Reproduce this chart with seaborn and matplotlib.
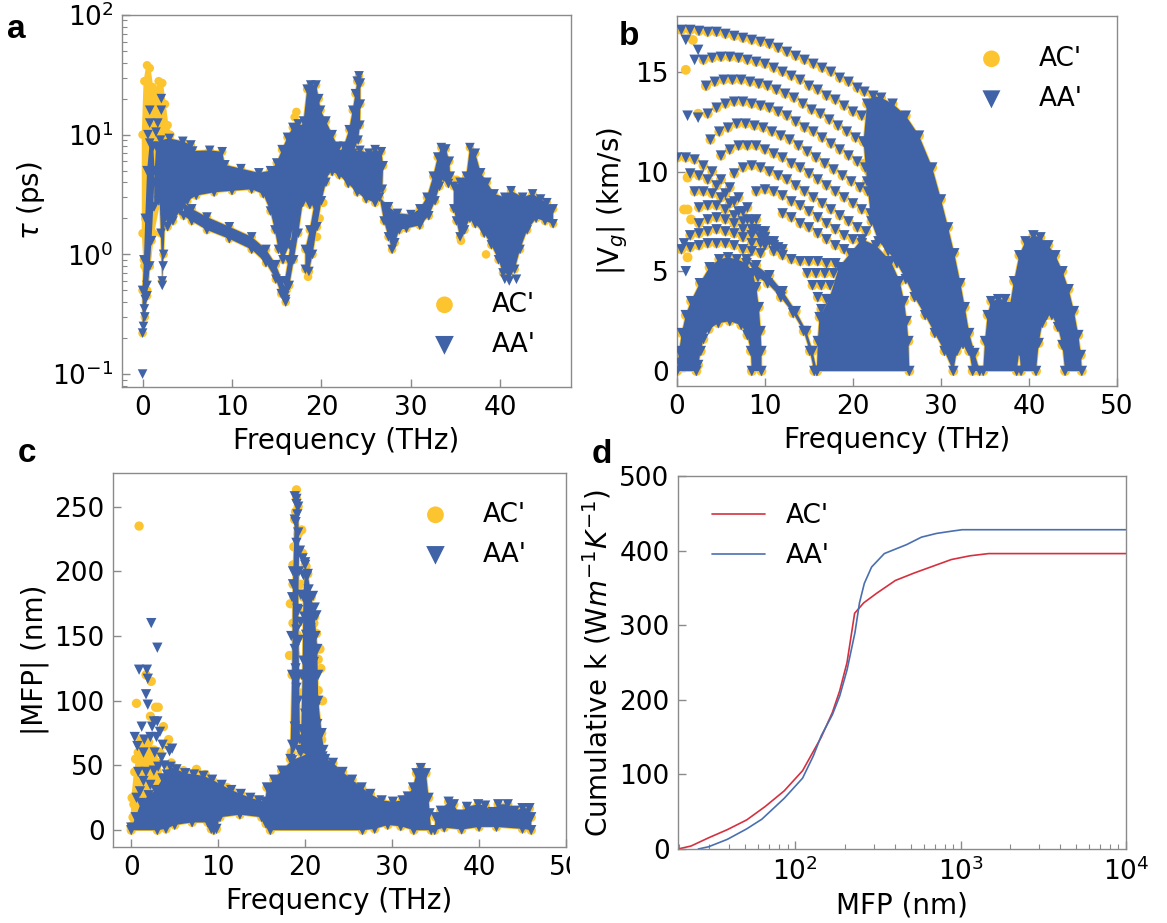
import matplotlib
matplotlib.use("Agg")
import matplotlib.pyplot as plt
from matplotlib.patches import Rectangle
from matplotlib.ticker import LogLocator, NullFormatter, MultipleLocator
import pandas as pd
import seaborn as sns

YELLOW = "#fcc42e"
BLUE = "#3f63a6"
RED_LINE = "#d6303f"
BLUE_LINE = "#4a6fb0"
SPINE = "#8a8a8a"
SERIES = ["AC'", "AA'"]

# ---------------- (a) phonon lifetime tau (ps) vs frequency (THz) ----------------
TAU_LOWF = [(0.0, 0.22), (0.25, 0.3), (0.5, 0.45), (0.8, 0.8), (1.0, 1.3), (1.2, 2.5), (1.35, 5.0),
            (1.2, 8.0), (0.8, 8.5), (0.5, 5.0), (0.3, 2.0), (0.15, 0.9), (0.0, 0.5)]
TAU_DIP = [(1.9, 3.0), (2.05, 1.5), (2.2, 0.6), (2.35, 1.0), (2.5, 2.0), (2.6, 3.2)]
TAU_UPPER = [(1.3, 4.0), (1.5, 8.0), (2.0, 9.0), (3.0, 9.3), (4.5, 8.8), (5.4, 8.2), (5.6, 7.3),
             (7.5, 7.4), (8.9, 7.2), (9.2, 5.6), (11.0, 5.2), (13.0, 4.8), (14.3, 5.0), (15.0, 5.8),
             (15.6, 7.5), (16.2, 9.5), (16.8, 11.5), (17.4, 12.3), (17.9, 11.0), (18.1, 6.0),
             (17.5, 3.5), (17.0, 2.0), (16.4, 1.2), (15.7, 0.9), (15.2, 1.1), (14.8, 1.6), (14.3, 2.3),
             (13.5, 3.2), (12.2, 3.5), (10.0, 3.4), (8.0, 3.3), (6.0, 3.1), (5.0, 2.8), (4.2, 2.3),
             (3.4, 1.9), (2.8, 1.7), (2.4, 2.4), (1.8, 2.8), (1.3, 2.5)]
TAU_LOWER = [(4.6, 2.7), (5.5, 2.4), (7.2, 2.05), (9.7, 1.7), (12.2, 1.4), (13.8, 1.1), (14.9, 0.82),
             (15.6, 0.6), (16.1, 0.5), (16.0, 0.4), (15.5, 0.47), (14.9, 0.62), (13.8, 0.85),
             (12.2, 1.1), (9.7, 1.35), (7.2, 1.6), (5.5, 1.9), (4.6, 2.1)]
TAU_ARM = [(15.9, 0.45), (16.4, 0.55), (16.9, 0.9), (17.4, 1.5), (17.9, 2.7), (18.3, 5.0), (18.3, 9.0),
           (17.9, 10.0), (17.5, 7.0), (17.2, 3.5), (16.8, 1.7), (16.3, 0.9), (15.9, 0.6)]
TAU_RISE = [(18.2, 0.75), (18.6, 0.72), (19.0, 1.0), (19.5, 1.7), (20.0, 2.8), (20.5, 4.0), (21.0, 5.3),
            (21.0, 7.0), (20.4, 6.0), (19.8, 4.2), (19.2, 2.6), (18.7, 1.6), (18.2, 1.1)]
TAU_PEAK = [(17.4, 5.0), (17.6, 11.0), (18.0, 13.0), (18.4, 24.0), (18.8, 26.0), (19.4, 26.0),
            (19.7, 20.0), (19.9, 16.0), (20.5, 13.0), (21.2, 10.0), (21.8, 8.0), (21.8, 5.5),
            (20.8, 5.0), (20.0, 3.8), (19.3, 2.8), (18.7, 2.6), (18.0, 3.0)]
TAU_SPIKE = [(21.6, 6.5), (22.5, 8.0), (23.1, 11.0), (23.5, 16.0), (23.8, 22.0), (24.0, 28.0),
             (24.2, 31.0), (24.35, 27.0), (24.35, 18.0), (24.3, 12.0), (24.1, 9.0), (23.5, 7.0),
             (22.5, 5.5)]
TAU_MID = [(20.8, 6.5), (21.8, 7.6), (22.8, 7.2), (24.3, 7.4), (25.3, 7.0), (26.0, 7.5), (26.7, 7.2),
           (26.9, 5.5), (26.8, 3.5), (26.0, 2.7), (25.0, 2.9), (24.0, 3.3), (23.0, 3.9), (22.0, 4.6),
           (21.2, 4.9), (20.8, 5.2)]
TAU_MID2 = [(26.5, 3.0), (27.5, 2.5), (28.5, 2.2), (30.0, 2.15), (31.0, 2.4), (31.8, 3.0), (32.5, 4.5),
            (33.0, 6.5), (33.4, 7.8), (33.9, 7.6), (34.3, 6.0), (34.4, 4.5), (34.2, 3.9), (33.7, 4.4),
            (33.2, 3.7), (32.7, 2.8), (32.0, 2.1), (31.0, 1.75), (29.5, 1.65), (28.7, 1.6),
            (28.2, 1.25), (27.9, 1.1), (27.5, 1.4), (27.0, 1.9)]
TAU_HIGH = [(34.8, 3.7), (35.5, 4.0), (36.2, 4.5), (36.6, 7.8), (37.2, 7.0), (37.8, 4.8), (38.5, 4.0),
            (39.3, 3.2), (40.5, 3.0), (41.2, 3.4), (42.5, 3.0), (43.6, 3.2), (44.5, 2.9), (45.2, 2.7),
            (45.9, 2.4), (45.9, 1.8), (45.0, 1.9), (44.0, 2.0), (43.0, 1.6), (42.2, 1.1), (41.6, 0.75),
            (41.0, 0.68), (40.3, 0.7), (39.8, 0.9), (39.0, 1.2), (38.2, 1.5), (37.2, 1.8), (36.6, 2.0),
            (36.0, 1.6), (35.5, 1.4), (35.1, 1.9), (34.8, 2.4)]
TAU_AA_PTS = [(0.0, 0.1), (0.1, 0.25), (0.2, 0.35), (0.3, 0.42), (0.5, 0.55), (0.8, 16.0), (0.8, 12.5),
              (0.6, 10.0), (1.7, 12.5), (2.1, 20.0), (2.1, 16.0), (1.5, 10.5), (2.2, 0.55), (2.3, 0.8),
              (16.0, 0.42), (41.0, 0.6), (41.8, 0.62), (40.5, 0.62)]
TAU_AC_LOWF = [(0.0, 1.5), (0.0, 10.0), (0.2, 28.0), (0.5, 38.0), (0.8, 36.0), (1.1, 25.0), (1.4, 22.0),
               (1.8, 28.0), (2.2, 27.0), (2.5, 18.0), (2.8, 12.0), (3.1, 10.0), (2.8, 5.0), (2.0, 3.0),
               (1.2, 1.5), (0.8, 0.8), (0.5, 0.5), (0.2, 0.8)]
TAU_AC_PTS = [(17.2, 15.5), (17.0, 14.0), (18.5, 0.65), (18.3, 0.75), (35.1, 4.2), (35.6, 1.3),
              (38.4, 1.0), (42.4, 1.7), (26.6, 7.3), (0.5, 0.5), (0.4, 0.75), (19.5, 1.4), (19.8, 2.0),
              (20.2, 2.7)]

# ---------------- (b) group velocity |Vg| (km/s) vs frequency (THz) ----------------
VG_DOME = [(0.0, 0.0), (0.25, 1.0), (0.55, 1.9), (1.0, 2.8), (1.6, 3.5), (2.6, 4.4), (3.7, 5.2),
           (4.8, 5.6), (5.8, 5.7), (6.8, 5.6), (7.9, 5.4), (8.6, 4.9), (9.0, 4.2), (9.3, 3.2),
           (9.5, 2.0), (9.6, 1.0), (9.6, 0.0), (8.5, 0.0), (8.4, 1.0), (8.0, 1.8), (7.3, 2.3),
           (6.0, 2.5), (4.7, 2.4), (3.6, 2.1), (3.0, 1.6), (2.7, 1.0), (2.4, 0.3), (2.2, 0.0)]
VG_THIN = [(7.9, 5.6), (9.0, 5.3), (10.5, 4.8), (12.0, 4.0), (13.5, 3.0), (14.7, 2.0), (15.4, 1.0),
           (15.9, 0.0), (15.6, 0.0), (15.1, 1.0), (14.4, 2.0), (13.2, 2.9), (11.8, 3.7), (10.3, 4.4),
           (9.2, 4.7)]
VG_CENTER = [(15.9, 0.0), (16.0, 1.5), (16.2, 2.7), (17.3, 3.6), (18.4, 5.2), (19.7, 5.9), (21.0, 6.6),
             (22.6, 6.3), (24.3, 5.5), (25.3, 4.5), (25.8, 3.5), (26.1, 2.5), (26.3, 1.5), (26.4, 0.0)]
VG_BIG = [(21.2, 11.5), (21.6, 13.4), (22.3, 13.8), (23.2, 13.7), (24.5, 13.4), (26.0, 12.8),
          (27.5, 11.8), (29.0, 10.2), (30.0, 8.6), (30.8, 7.2), (31.5, 5.9), (32.2, 4.4), (32.7, 3.2),
          (33.2, 1.9), (33.8, 0.9), (34.4, 0.0), (33.6, 0.0), (33.2, 1.0), (32.5, 1.35), (31.8, 1.0),
          (31.4, 0.0), (30.4, 1.0), (29.3, 1.9), (28.2, 2.8), (27.0, 3.7), (26.0, 4.6), (25.0, 5.4),
          (24.0, 6.0), (22.9, 6.5), (22.1, 7.5), (21.6, 9.5)]
VG_RIGHT = [(34.8, 0.0), (35.0, 1.5), (35.3, 2.8), (35.7, 3.5), (36.5, 3.6), (37.3, 3.6), (37.8, 3.2),
            (38.3, 4.5), (38.9, 5.8), (39.6, 6.5), (40.5, 6.8), (41.3, 6.7), (42.2, 6.3), (43.0, 5.8),
            (43.8, 5.0), (44.5, 4.1), (45.1, 3.0), (45.6, 1.8), (45.9, 0.8), (46.0, 0.0), (44.1, 0.0),
            (43.8, 1.3), (43.3, 2.2), (42.6, 2.8), (42.0, 2.8), (41.5, 2.4), (41.1, 1.4), (40.8, 0.0),
            (39.1, 0.0), (38.9, 1.0), (38.6, 0.0)]
VG_ROW0 = [(0.5, 17.1), (1.5, 17.1), (2.5, 17.05), (3.5, 17.0), (4.5, 17.0), (5.5, 16.9), (6.5, 16.8),
           (7.5, 16.7), (8.5, 16.6), (9.5, 16.5), (10.5, 16.4), (11.5, 16.2), (12.5, 16.0), (13.5, 15.8),
           (14.5, 15.6), (15.5, 15.4), (16.5, 15.2), (17.5, 15.0), (18.5, 14.7), (19.5, 14.5),
           (20.5, 14.2), (21.3, 14.0)]
VG_ROW1 = [(3.0, 15.6), (4.0, 15.7), (5.0, 15.75), (6.0, 15.75), (7.0, 15.7), (8.0, 15.6), (9.0, 15.5),
           (10.0, 15.4), (11.0, 15.2), (12.0, 15.0), (13.0, 14.8), (14.0, 14.6), (15.0, 14.3),
           (16.0, 14.1), (17.0, 13.8), (18.0, 13.6), (19.0, 13.3), (20.0, 13.0), (21.0, 12.8)]
VG_ROW2 = [(3.3, 14.3), (4.3, 14.5), (5.3, 14.6), (6.3, 14.6), (7.3, 14.6), (8.3, 14.5), (9.3, 14.4),
           (10.3, 14.3), (11.3, 14.1), (12.3, 13.9), (13.3, 13.7), (14.3, 13.4), (15.3, 13.1),
           (16.3, 12.9), (17.3, 12.6), (18.3, 12.3), (19.3, 12.0), (20.3, 11.7), (21.2, 11.5)]
VG_ROW3 = [(3.5, 12.9), (4.5, 13.2), (5.5, 13.4), (6.5, 13.5), (7.5, 13.5), (8.5, 13.4), (9.5, 13.3),
           (10.5, 13.2), (11.5, 13.0), (12.5, 12.8), (13.5, 12.5), (14.5, 12.2), (15.5, 12.0),
           (16.5, 11.7), (17.5, 11.4), (18.5, 11.1), (19.5, 10.8), (20.5, 10.5), (21.4, 10.2)]
VG_ROW4 = [(3.8, 11.6), (4.8, 12.0), (5.8, 12.2), (6.8, 12.4), (7.8, 12.4), (8.8, 12.3), (9.8, 12.2),
           (10.8, 12.0), (11.8, 11.8), (12.8, 11.6), (13.8, 11.3), (14.8, 11.0), (15.8, 10.7),
           (16.8, 10.4), (17.8, 10.1), (18.8, 9.8), (19.8, 9.5), (20.8, 9.2), (21.7, 9.0)]
VG_ROW5 = [(5.0, 10.8), (6.0, 11.1), (7.0, 11.3), (8.0, 11.3), (9.0, 11.3), (10.0, 11.1), (11.0, 10.9),
           (12.0, 10.7), (13.0, 10.4), (14.0, 10.2), (15.0, 9.9), (16.0, 9.6), (17.0, 9.3),
           (18.0, 9.0), (19.0, 8.7), (20.0, 8.4), (21.0, 8.1), (22.0, 7.9)]
VG_ROW6 = [(6.5, 9.9), (7.5, 10.2), (8.5, 10.3), (9.5, 10.2), (10.5, 10.0), (11.5, 9.8), (12.5, 9.6),
           (13.5, 9.3), (14.5, 9.0), (15.5, 8.7), (16.5, 8.4), (17.5, 8.1), (18.5, 7.8), (19.5, 7.5),
           (20.5, 7.2), (21.5, 7.0)]
VG_ROW7 = [(9.0, 9.0), (10.0, 9.1), (11.0, 9.0), (12.0, 8.8), (13.0, 8.5), (14.0, 8.3), (15.0, 8.0),
           (16.0, 7.7), (17.0, 7.4), (18.0, 7.1), (19.0, 6.8), (20.0, 6.6), (21.0, 6.4)]
VG_ROW8 = [(12.0, 7.9), (13.0, 7.7), (14.0, 7.4), (15.0, 7.2), (16.0, 6.9), (17.0, 6.6), (18.0, 6.3),
           (19.0, 6.1)]
VG_ROW9 = [(10.0, 6.3), (11.0, 6.0), (12.0, 5.8), (13.0, 5.6), (14.0, 5.5), (15.0, 5.5), (16.0, 5.5),
           (17.0, 5.4), (18.0, 5.4), (14.8, 4.9), (15.8, 4.9), (16.8, 4.9), (17.8, 4.9), (15.4, 4.3),
           (16.4, 4.3), (17.4, 4.3), (16.0, 3.7), (17.0, 3.6), (16.4, 3.1)]
VG_LEFT0 = [(0.0, 10.7), (1.0, 10.7), (2.0, 10.6), (3.0, 10.3), (4.0, 10.0), (5.0, 9.6), (6.0, 9.2),
            (7.0, 8.7), (8.0, 8.2), (9.0, 7.6), (10.0, 7.0), (11.0, 6.5), (12.0, 6.1)]
VG_LEFT1 = [(1.5, 9.9), (2.5, 9.8), (3.5, 9.6), (4.5, 9.3), (5.5, 8.9), (6.5, 8.5), (7.5, 8.0),
            (8.5, 7.5), (9.5, 7.0), (10.5, 6.5), (11.5, 6.2)]
VG_LEFT2 = [(2.0, 9.0), (3.0, 9.0), (4.0, 8.9), (5.0, 8.7), (6.0, 8.4), (7.0, 8.0), (8.0, 7.6),
            (9.0, 7.1), (10.0, 6.7), (11.0, 6.3)]
VG_LEFT3 = [(2.5, 8.2), (3.5, 8.3), (4.5, 8.3), (5.5, 8.1), (6.5, 7.8), (7.5, 7.5), (8.5, 7.1), (9.5, 6.7)]
VG_LEFT4 = [(2.5, 7.4), (3.5, 7.6), (4.5, 7.7), (5.5, 7.6), (6.5, 7.4), (7.5, 7.1), (8.5, 6.8), (9.5, 6.4)]
VG_LEFT5 = [(1.5, 6.8), (2.5, 6.9), (3.5, 7.0), (4.5, 7.1), (5.5, 7.0), (6.5, 6.9), (7.5, 6.7), (8.5, 6.4)]
VG_LEFT6 = [(0.5, 6.1), (1.5, 6.2), (2.5, 6.3), (3.5, 6.4), (4.5, 6.4), (5.5, 6.4), (6.5, 6.3),
            (7.5, 6.1), (8.5, 6.0), (9.5, 5.9)]
VG_AA_PTS = [(1.0, 16.6), (2.0, 15.6), (2.4, 16.1), (1.2, 12.8), (2.4, 12.7), (0.8, 6.4), (1.0, 5.0),
             (0.3, 0.4), (1.1, 0.4)]
VG_AC_PTS = [(1.0, 15.1), (1.8, 16.6), (3.3, 14.3), (2.4, 12.9), (1.2, 9.7), (1.2, 8.1), (1.6, 7.6),
             (1.2, 5.7), (0.8, 8.1), (21.8, 10.0), (21.3, 10.4), (22.0, 10.6)]

# ---------------- (c) mean free path |MFP| (nm) vs frequency (THz) ----------------
MFP_MAIN = [(0.0, 2.0), (0.5, 10.0), (1.1, 21.0), (2.0, 27.0), (2.8, 31.0), (3.6, 40.0), (4.5, 49.0),
            (5.2, 47.0), (6.2, 44.0), (7.2, 43.0), (8.3, 42.0), (9.3, 39.0), (10.4, 35.0), (11.5, 31.0),
            (12.6, 28.0), (13.7, 25.0), (14.7, 23.0), (15.4, 22.0), (15.6, 33.0), (16.4, 39.0),
            (17.3, 46.0), (18.5, 54.0), (20.3, 59.0), (22.0, 57.0), (23.2, 52.0), (24.3, 45.0),
            (25.4, 39.0), (26.5, 33.0), (27.5, 28.0), (28.8, 23.0), (30.1, 22.0), (31.2, 23.0),
            (31.8, 26.0), (32.4, 33.0), (32.8, 44.0), (33.3, 48.0), (33.9, 44.0), (34.2, 25.0),
            (34.3, 13.0), (34.5, 0.0), (32.5, 0.0), (31.0, 3.0), (29.5, 4.0), (28.0, 1.0), (26.6, 0.0),
            (16.0, 0.0), (15.5, 5.0), (15.0, 10.0), (12.5, 12.0), (10.2, 10.0), (9.8, 1.0), (9.5, 0.0),
            (9.2, 1.0), (8.8, 6.0), (7.0, 6.0), (5.0, 4.0), (4.0, 1.0), (3.0, 0.0), (0.0, 0.0)]
MFP_RIGHT = [(34.9, 0.0), (35.0, 10.0), (35.6, 15.0), (36.5, 22.0), (37.1, 20.0), (37.7, 12.0),
             (38.6, 18.0), (39.9, 20.0), (40.7, 19.0), (41.6, 14.0), (42.2, 20.0), (43.3, 20.0),
             (44.1, 15.0), (45.0, 17.0), (45.8, 17.0), (46.0, 10.0), (46.0, 0.0), (45.0, 1.0),
             (42.0, 2.5), (40.0, 2.5), (38.0, 0.5), (36.0, 2.0)]
MFP_PEAK_L = [(18.3, 55.0), (18.5, 120.0), (18.6, 190.0), (18.8, 240.0), (19.0, 256.0), (19.2, 250.0),
              (19.3, 215.0), (19.2, 170.0), (19.3, 120.0), (19.4, 70.0)]
MFP_PEAK_R = [(19.5, 60.0), (19.7, 120.0), (19.8, 180.0), (20.0, 205.0), (20.3, 198.0), (20.7, 180.0),
              (21.1, 165.0), (21.4, 140.0), (21.5, 100.0), (21.9, 75.0), (22.3, 55.0)]
MFP_AA_PTS = [(18.8, 258), (19.0, 252), (19.1, 244), (18.9, 238), (19.2, 230), (19.0, 222), (19.4, 216),
              (19.7, 210), (20.0, 207), (19.3, 200), (19.8, 197), (20.2, 196), (20.4, 186), (20.9, 181),
              (21.1, 172), (21.3, 166), (19.5, 182), (19.1, 171), (19.5, 161), (19.0, 155), (19.3, 147),
              (20.1, 151), (20.6, 156), (21.2, 150), (18.8, 140), (19.8, 131), (20.3, 126), (19.6, 120),
              (20.8, 116), (19.0, 110), (19.2, 100), (20.4, 98), (21.2, 95), (21.0, 86), (18.8, 80),
              (19.6, 78), (20.2, 75), (21.5, 70), (18.5, 66), (19.3, 62), (20.8, 60), (21.7, 56),
              (22.1, 62), (22.2, 52), (20.0, 90), (20.7, 105), (21.4, 82), (18.9, 125), (19.9, 165),
              (20.5, 140), (21.0, 130), (18.6, 200), (18.5, 180), (18.4, 150), (21.5, 120),
              (0.9, 124), (1.8, 124), (1.9, 117), (2.3, 160), (3.0, 141), (1.7, 105), (1.9, 97),
              (0.4, 72), (1.2, 80), (2.6, 84), (3.0, 84), (2.9, 72), (3.3, 76), (2.2, 72), (0.7, 65),
              (1.4, 60), (3.5, 56), (4.4, 61), (4.7, 63), (2.7, 60), (3.8, 50), (1.7, 45), (2.6, 46),
              (3.1, 49), (4.1, 43), (0.8, 45), (1.4, 38), (2.2, 35), (1.0, 30), (2.4, 80), (3.6, 66),
              (1.5, 70), (0.6, 25)]
MFP_AC_LOWF = [(0.0, 3.0), (0.1, 25.0), (0.4, 45.0), (0.8, 60.0), (1.3, 65.0), (2.0, 68.0), (2.6, 62.0),
               (3.2, 52.0), (3.6, 40.0), (3.3, 28.0), (2.2, 15.0), (1.0, 8.0)]
MFP_AC_PTS = [(19.0, 263), (18.9, 246), (19.2, 229), (18.7, 219), (19.7, 214), (20.1, 204), (19.5, 190),
              (20.6, 181), (21.0, 160), (21.3, 152), (21.3, 141), (21.5, 132), (20.4, 121), (21.5, 108),
              (21.3, 101), (19.1, 151), (18.9, 136), (18.7, 121), (18.9, 96), (19.4, 106), (20.9, 90),
              (21.9, 70), (18.6, 205), (18.7, 180), (18.6, 160), (21.2, 65), (18.4, 60), (21.8, 125),
              (21.7, 140), (22.0, 100), (19.6, 232), (18.3, 175), (18.2, 135),
              (0.9, 235), (0.6, 98), (2.3, 115), (2.8, 95), (3.1, 95), (1.7, 120), (3.7, 80), (4.3, 70),
              (0.5, 55), (1.0, 50), (1.5, 55), (2.0, 60), (1.3, 40), (0.8, 35), (1.8, 30), (0.3, 20),
              (0.2, 10), (2.5, 50), (3.3, 60), (4.6, 52), (5.0, 48), (7.5, 47), (6.0, 46), (8.5, 43),
              (11.0, 33), (4.0, 66), (2.2, 88), (1.1, 70)]

# ---------------- (d) cumulative thermal conductivity vs MFP ----------------
MFP_AC = [19.6, 23.5, 30, 39, 51, 66, 86, 111, 144, 168, 186, 206, 229, 260, 312, 404, 525, 679, 879,
          1138, 1476, 10000]
K_AC = [0, 4, 15, 26, 39, 57, 78, 105, 150, 183, 212, 250, 316, 330, 343, 360, 370, 379, 388, 393, 396, 396]
MFP_AA = [26, 30, 39, 51, 63, 86, 111, 129, 144, 168, 186, 206, 230, 245, 262, 290, 346, 404, 472, 580,
          715, 880, 1024, 10000]
K_AA = [0, 3, 13, 27, 40, 68, 95, 125, 152, 180, 205, 240, 290, 330, 356, 378, 396, 402, 408, 418, 423,
        426, 428, 428]

sns.set_style("white")
plt.rcParams["font.family"] = ["DejaVu Sans"]
plt.rcParams["mathtext.fontset"] = "dejavusans"
plt.rcParams["text.color"] = "black"
plt.rcParams["axes.labelcolor"] = "black"

W, H = 1167, 923
fig = plt.figure(figsize=(W / 100, H / 100), dpi=100)
fig.patch.set_facecolor("white")


def cloud(ax, bands, points, color, marker, size, label, z, rim=0.0):
    """Fill dense point clouds as regions and scatter their outline and loose points."""
    for band in bands:
        bx, by = zip(*band)
        ax.fill(bx, by, facecolor=color, edgecolor=color if rim else "none",
                linewidth=rim, zorder=z)
    pts = [p for band in bands for p in band] + list(points)
    df = pd.DataFrame(pts, columns=["x", "y"])
    sns.scatterplot(data=df, x="x", y="y", marker=marker, s=size, color=color,
                    edgecolor="none", linewidth=0, label=label, legend=False,
                    ax=ax, zorder=z + 1)


def style(ax):
    for sp in ax.spines.values():
        sp.set_color(SPINE)
        sp.set_linewidth(1.0)
    ax.tick_params(which="both", direction="in", color=SPINE, labelcolor="black", bottom=True,
                   left=True, top=False, right=False)
    ax.tick_params(which="major", length=6, width=1, labelsize=19, pad=6)
    ax.tick_params(which="minor", length=3.5, width=0.8)
    ax.set_facecolor("white")


def legend(ax, cx, cy, scale=1.95):
    ax.legend(loc="center", bbox_to_anchor=(cx / W, 1 - cy / H), bbox_transform=fig.transFigure,
              frameon=False, fontsize=19, markerscale=scale, handletextpad=0.8,
              labelspacing=0.55)


# (a)
ax_a = fig.add_axes([122 / W, 1 - 387 / H, 449 / W, 372 / H])
tau_bands = [TAU_LOWF, TAU_DIP, TAU_UPPER, TAU_LOWER, TAU_ARM, TAU_RISE, TAU_PEAK, TAU_SPIKE,
             TAU_MID, TAU_MID2, TAU_HIGH]
cloud(ax_a, tau_bands + [TAU_AC_LOWF], TAU_AC_PTS, YELLOW, "o", 38, SERIES[0], 1, rim=1.2)
cloud(ax_a, tau_bands, TAU_AA_PTS, BLUE, "v", 48, SERIES[1], 3)
ax_a.set_yscale("log")
ax_a.set_xlim(-2.3, 47.9)
ax_a.set_ylim(0.078, 100)
ax_a.xaxis.set_major_locator(MultipleLocator(10))
ax_a.yaxis.set_major_locator(LogLocator(base=10, numticks=10))
ax_a.yaxis.set_minor_locator(LogLocator(base=10, subs=range(2, 10), numticks=20))
ax_a.yaxis.set_minor_formatter(NullFormatter())
ax_a.set_xlabel("Frequency (THz)", fontsize=20)
ax_a.set_ylabel(r"$\tau$ (ps)", fontsize=20)
style(ax_a)
legend(ax_a, 477, 325)

# (b)
ax_b = fig.add_axes([677 / W, 1 - 386 / H, 440 / W, 370 / H])
vg_bands = [VG_DOME, VG_THIN, VG_CENTER, VG_BIG, VG_RIGHT]
vg_rows = (VG_ROW0 + VG_ROW1 + VG_ROW2 + VG_ROW3 + VG_ROW4 + VG_ROW5 + VG_ROW6 + VG_ROW7
           + VG_ROW8 + VG_ROW9 + VG_LEFT0 + VG_LEFT1 + VG_LEFT2 + VG_LEFT3 + VG_LEFT4
           + VG_LEFT5 + VG_LEFT6)
cloud(ax_b, vg_bands, vg_rows + VG_AC_PTS, YELLOW, "o", 50, SERIES[0], 1, rim=1.2)
cloud(ax_b, vg_bands, vg_rows + VG_AA_PTS, BLUE, "v", 58, SERIES[1], 3)
ax_b.set_xlim(0, 50)
ax_b.set_ylim(-0.75, 17.8)
ax_b.xaxis.set_major_locator(MultipleLocator(10))
ax_b.yaxis.set_major_locator(MultipleLocator(5))
ax_b.set_xlabel("Frequency (THz)", fontsize=20)
ax_b.set_ylabel(r"|V$_g$| (km/s)", fontsize=20)
style(ax_b)
legend(ax_b, 1024, 79, scale=1.7)

# (c)
ax_c = fig.add_axes([113 / W, 1 - 847 / H, 453 / W, 374 / H])
mfp_bands = [MFP_MAIN, MFP_RIGHT, MFP_PEAK_L, MFP_PEAK_R]
cloud(ax_c, mfp_bands + [MFP_AC_LOWF], MFP_AC_PTS, YELLOW, "o", 45, SERIES[0], 1, rim=1.2)
cloud(ax_c, mfp_bands, MFP_AA_PTS, BLUE, "v", 55, SERIES[1], 3)
ax_c.set_xlim(-2.1, 50)
ax_c.set_ylim(-13, 276)
ax_c.xaxis.set_major_locator(MultipleLocator(10))
ax_c.yaxis.set_major_locator(MultipleLocator(50))
ax_c.set_xlabel("Frequency (THz)", fontsize=20)
ax_c.set_ylabel("|MFP| (nm)", fontsize=20)
style(ax_c)
legend(ax_c, 468, 535, scale=1.8)

# (d)
ax_d = fig.add_axes([678 / W, 1 - 849 / H, 448 / W, 373 / H])
df_ac = pd.DataFrame({"mfp": MFP_AC, "k": K_AC})
df_aa = pd.DataFrame({"mfp": MFP_AA, "k": K_AA})
sns.lineplot(data=df_ac, x="mfp", y="k", color=RED_LINE, linewidth=1.2, label=SERIES[0],
             errorbar=None, ax=ax_d, legend=False)
sns.lineplot(data=df_aa, x="mfp", y="k", color=BLUE_LINE, linewidth=1.2, label=SERIES[1],
             errorbar=None, ax=ax_d, legend=False)
ax_d.set_xscale("log")
ax_d.set_xlim(19.6, 1e4)
ax_d.set_ylim(0, 500)
ax_d.yaxis.set_major_locator(MultipleLocator(100))
ax_d.xaxis.set_minor_locator(LogLocator(base=10, subs=range(2, 10), numticks=20))
ax_d.xaxis.set_minor_formatter(NullFormatter())
ax_d.set_xlabel("MFP (nm)", fontsize=20)
ax_d.set_ylabel(r"Cumulative k (W$m^{-1}K^{-1}$)", fontsize=20)
style(ax_d)
ax_d.legend(loc="center", bbox_to_anchor=(771 / W, 1 - 536 / H), bbox_transform=fig.transFigure,
            frameon=False, fontsize=19, handlelength=2.0, handletextpad=0.8, labelspacing=0.55)

# panel letters
for letter, px, py in [("a", 7, 38), ("b", 619, 45), ("c", 18, 462), ("d", 592, 463)]:
    fig.text(px / W, 1 - py / H, letter, fontsize=24, fontweight="bold",
             family=["Liberation Sans", "DejaVu Sans"], va="baseline", ha="left")

# the right-hand panels sit over the last tick label of panel c
fig.patches.append(Rectangle((570 / W, 1 - 896 / H), 13 / W, 45 / H, transform=fig.transFigure,
                             facecolor="white", edgecolor="none", zorder=10))

fig.savefig("out.png", dpi=100, facecolor="white")
